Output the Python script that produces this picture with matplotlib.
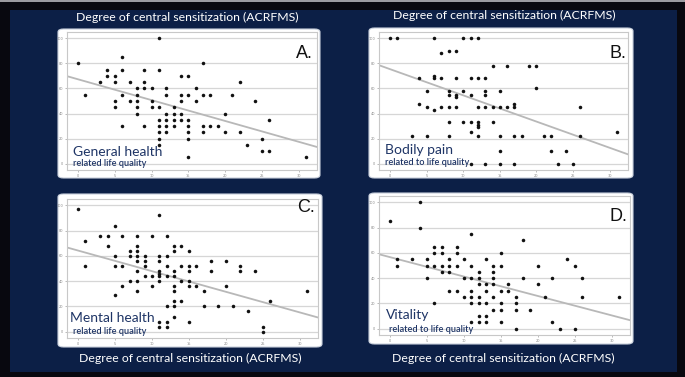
import matplotlib
matplotlib.use("Agg")
import matplotlib.pyplot as plt
from matplotlib.patches import FancyBboxPatch, Rectangle

W, H = 685, 377

# ---------------- data ----------------
title_text = "Degree of central sensitization (ACRFMS)"
panel_letters = ["A.", "B.", "C.", "D."]
panel_main = ["General health", "Bodily pain", "Mental health", "Vitality"]
panel_sub = ["related life quality", "related to life quality",
             "related life quality", "related to life quality"]
x_ticks = [0, 5, 10, 15, 20, 25, 30]
y_ticks = [0, 20, 40, 60, 80, 100]

a_x = [0, 1, 3, 4, 4, 5, 5, 5, 5, 6, 6, 6, 6, 7, 7, 8, 8, 8, 8, 8, 9, 9, 9, 9,
       10, 10, 10, 11, 11, 11, 11, 11, 11, 11, 11, 12, 12, 12, 12, 12, 12,
       13, 13, 13, 13, 14, 14, 14, 14, 14, 15, 15, 15, 15, 15, 15, 15,
       16, 16, 17, 17, 17, 17, 18, 18, 19, 20, 20, 21, 22, 22, 23, 24,
       25, 25, 26, 26, 31]
a_y = [80, 55, 65, 75, 70, 70, 65, 50, 45, 85, 75, 55, 30, 65, 50, 60, 55, 50, 45, 40,
       75, 65, 60, 30, 60, 50, 45, 100, 75, 45, 35, 30, 25, 20, 15,
       60, 55, 40, 35, 30, 25, 45, 40, 35, 30, 70, 55, 50, 40, 35,
       70, 55, 35, 30, 25, 20, 5, 60, 50, 80, 55, 30, 25, 55, 30, 30, 40, 25,
       55, 65, 25, 15, 50, 20, 10, 35, 10, 5]

b_x = [0, 1, 3, 4, 4, 5, 5, 5, 6, 6, 6, 6, 7, 7, 7, 8, 8, 8, 8, 8, 8,
       9, 9, 9, 9, 9, 10, 10, 10, 11, 11, 11, 11, 11, 11,
       12, 12, 12, 12, 12, 12, 12, 13, 13, 13, 13, 13, 14, 14, 14,
       15, 15, 15, 15, 15, 16, 16, 17, 17, 17, 17, 18, 19, 20, 20,
       21, 22, 22, 23, 24, 25, 26, 26, 31]
b_y = [100, 100, 22, 68, 48, 58, 45, 22, 100, 70, 68, 43, 88, 68, 45,
       90, 58, 55, 45, 33, 22, 90, 68, 55, 53, 45, 100, 58, 33,
       100, 68, 55, 33, 25, 0, 100, 68, 45, 33, 31, 29, 22,
       68, 58, 55, 45, 0, 78, 45, 33, 58, 45, 22, 10, 0, 78, 45,
       48, 45, 22, 0, 22, 78, 78, 60, 22, 22, 10, 0, 10, 0, 45, 22, 25]

c_x = [0, 1, 1, 3, 4, 4, 5, 5, 5, 5, 6, 6, 6, 7, 7, 7,
       8, 8, 8, 8, 8, 8, 8, 8, 9, 9, 9, 9, 10, 10, 10,
       11, 11, 11, 11, 11, 11, 11, 11, 11, 12, 12, 12, 12, 12, 12, 12,
       13, 13, 13, 13, 13, 13, 13, 13, 13, 14, 14, 14, 14,
       15, 15, 15, 15, 15, 15, 16, 16, 17, 17, 18, 18, 19, 20, 20,
       21, 22, 22, 23, 24, 25, 25, 26, 31]
c_y = [97, 72, 52, 76, 76, 68, 84, 60, 52, 29, 76, 52, 36, 64, 60, 40,
       76, 68, 64, 60, 56, 48, 40, 32, 60, 56, 52, 44, 76, 44, 36,
       92, 60, 56, 48, 46, 44, 40, 8, 4, 76, 60, 52, 44, 20, 8, 4,
       68, 64, 48, 44, 36, 32, 24, 20, 12, 68, 52, 40, 24,
       64, 52, 48, 40, 36, 8, 52, 36, 32, 20, 56, 48, 20, 56, 36,
       20, 52, 48, 16, 48, 4, 0, 24, 32]

d_x = [0, 1, 1, 3, 4, 4, 5, 5, 5, 6, 6, 6, 6, 7, 7, 7, 7, 8, 8, 8, 8,
       9, 9, 9, 9, 10, 10, 10, 11, 11, 11, 11, 11, 11, 11,
       12, 12, 12, 12, 12, 12, 12, 13, 13, 13, 13, 13, 13,
       14, 14, 14, 14, 14, 14, 15, 15, 15, 15, 15, 15, 16, 16,
       17, 17, 17, 17, 18, 18, 19, 20, 20, 21, 22, 22, 23, 24, 25, 25,
       26, 26, 31]
d_y = [85, 55, 50, 55, 100, 80, 55, 50, 40, 65, 60, 50, 20, 65, 60, 50, 45,
       55, 50, 45, 30, 65, 60, 50, 30, 55, 40, 25, 75, 50, 40, 30, 25, 20, 5,
       45, 40, 35, 25, 20, 10, 5, 55, 35, 30, 20, 10, 5,
       50, 45, 40, 35, 25, 15, 60, 50, 30, 20, 15, 5, 35, 30,
       25, 20, 15, 0, 70, 40, 15, 50, 35, 25, 40, 5, 0, 55, 50, 0,
       40, 25, 25]

# fitted lines: (intercept, slope)
fit_a = (67.3, -1.66)
fit_b = (75.4, -2.09)
fit_c = (64.2, -1.63)
fit_d = (56.6, -1.535)

xs_all = [a_x, b_x, c_x, d_x]
ys_all = [a_y, b_y, c_y, d_y]
fits = [fit_a, fit_b, fit_c, fit_d]

# ---------------- layout (pixels) ----------------
navy = "#0c1f46"
label_col = "#1f3566"

fig = plt.figure(figsize=(W / 100, H / 100), dpi=100)
fig.patch.set_facecolor("#08080f")


def fx(x):
    return x / W


def fy(y):
    return 1 - y / H


# navy background panel
fig.patches.append(Rectangle((fx(10), fy(372)), fx(667), (362) / H,
                             transform=fig.transFigure, facecolor=navy,
                             edgecolor="none", zorder=-3))
fig.patches.append(Rectangle((0, fy(1.5)), 1, 1.5 / H,
                             transform=fig.transFigure, facecolor="#9a9aa0",
                             edgecolor="none", zorder=-3))

boxes = [(58, 29, 320, 178), (369, 28, 633, 178),
         (58, 194, 322, 347), (369, 193, 633, 344)]
axes_px = [(67, 32, 317, 170), (379, 32, 628, 170),
           (67, 199, 318, 338), (379, 196, 630, 335)]
letter_pos = [(313, 54), (626, 53), (315, 207), (627, 216)]
main_pos = [(73, 152), (385, 150), (70, 318), (386, 315)]
sub_pos = [(73, 164), (385, 163), (73, 331), (389, 329)]
title_pos = [(187.5, 17), (504.5, 15), (190, 358), (503, 358)]

for (x0, y0, x1, y1) in boxes:
    fig.patches.append(FancyBboxPatch((fx(x0), fy(y1)), fx(x1 - x0), (y1 - y0) / H,
                                      boxstyle="round,pad=0,rounding_size=0.008",
                                      transform=fig.transFigure, facecolor="white",
                                      edgecolor="#c9d0dc", linewidth=0.8, zorder=-2))

for i in range(4):
    x0, y0, x1, y1 = axes_px[i]
    ax = fig.add_axes([fx(x0), fy(y1), fx(x1 - x0), (y1 - y0) / H])
    ax.set_zorder(2)
    ax.set_facecolor("white")
    ax.set_xlim(-1.5, 32.5)
    ax.set_ylim(-5, 105)
    ax.set_xticks(x_ticks)
    ax.set_yticks(y_ticks)
    ax.tick_params(labelsize=2.5, colors="#888888", length=1.2, width=0.4, pad=1.5)
    ax.grid(axis="y", color="#d6d6d6", linewidth=0.9)
    ax.set_axisbelow(True)
    for s in ax.spines.values():
        s.set_color("#c8c8c8")
        s.set_linewidth(0.8)
    b0, b1 = fits[i]
    ax.axline((0, b0), slope=b1, color="#b8b8b8", linewidth=1.3, zorder=2)
    ax.scatter(xs_all[i], ys_all[i], s=6.5, color="#111111", zorder=3, linewidths=0)

    fig.text(fx(letter_pos[i][0]), fy(letter_pos[i][1]), panel_letters[i],
             fontsize=13, family="Liberation Sans", color="#111111",
             ha="right", va="center", zorder=5)
    fig.text(fx(main_pos[i][0]), fy(main_pos[i][1]), panel_main[i],
             fontsize=10, family="Lato", color=label_col,
             ha="left", va="center", zorder=5)
    fig.text(fx(sub_pos[i][0]), fy(sub_pos[i][1]), panel_sub[i],
             fontsize=6.6, family="Lato", fontweight="semibold", color=label_col,
             ha="left", va="center", zorder=5)
    fig.text(fx(title_pos[i][0]), fy(title_pos[i][1]), title_text,
             fontsize=8.8, family="Lato", color="white",
             ha="center", va="center", zorder=5)

fig.savefig("out.png", dpi=100, facecolor=fig.get_facecolor())
